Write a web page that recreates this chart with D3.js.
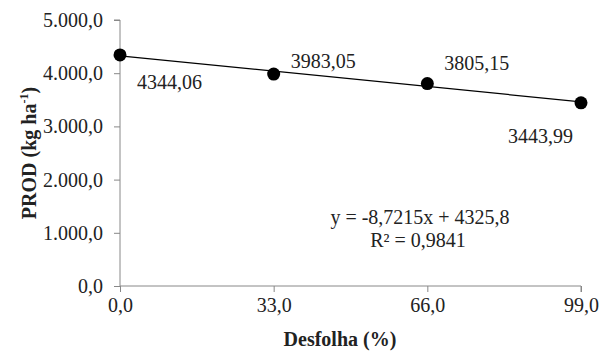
<!DOCTYPE html>
<html>
<head>
<meta charset="utf-8">
<script src="https://cdn.jsdelivr.net/npm/d3@7"></script>
<style>
  svg text, svg tspan { font-family: "Liberation Serif", "Times New Roman", Tinos, serif !important; }
</style>
</head>
<body style="margin:0;background:#fff">
<svg id="c" width="601" height="353" font-family="Liberation Serif"></svg>
<script>
const desfolha = [0, 33, 66, 99]
const prod = [4344.06, 3983.05, 3805.15, 3443.99]
const pointLabels = ['4344,06', '3983,05', '3805,15', '3443,99']
const xTicks = [0, 33, 66, 99]
const yTicks = [0, 1000, 2000, 3000, 4000, 5000]
const slope = -8.7215
const intercept = 4325.8

const FONT = 'Liberation Serif'
const FS = 20
const svg = d3.select('#c')
const margin = { left: 120, right: 20, top: 20, bottom: 67 }
const width = 601, height = 353

const x = d3.scaleLinear().domain([0, 99]).range([margin.left, width - margin.right])
const y = d3.scaleLinear().domain([0, 5000]).range([height - margin.bottom, margin.top])

const fmt = d => d3.format(',.1f')(d).replace(/,/g, '#').replace('.', ',').replace(/#/g, '.')

function txt(sel) {
  return sel.attr('font-family', FONT).attr('font-size', FS).attr('fill', '#222')
}

// y axis
const yAxis = svg.append('g')
  .attr('transform', `translate(${margin.left},0)`)
  .call(d3.axisLeft(y).tickValues(yTicks).tickFormat(fmt).tickSize(6).tickPadding(11))
yAxis.attr('font-family', FONT).attr('font-size', FS)
yAxis.select('.domain').attr('stroke', '#888').attr('d', `M-6,${y(5000)}H0V${y(0)}`)
yAxis.selectAll('.tick line').attr('stroke', '#888')
yAxis.selectAll('.tick text').call(txt)

// x axis
const xAxis = svg.append('g')
  .attr('transform', `translate(0,${y(0)})`)
  .call(d3.axisBottom(x).tickValues(xTicks).tickFormat(fmt).tickSize(6).tickPadding(6))
xAxis.attr('font-family', FONT).attr('font-size', FS)
xAxis.select('.domain').attr('stroke', '#888').attr('d', `M${x(0)},0H${x(99)}V6`)
xAxis.selectAll('.tick line').attr('stroke', '#888')
xAxis.selectAll('.tick text').call(txt)

// trend line
svg.append('line')
  .attr('x1', x(0)).attr('y1', y(intercept))
  .attr('x2', x(99)).attr('y2', y(intercept + slope * 99))
  .attr('stroke', '#000').attr('stroke-width', 1.2)

// points
svg.selectAll('circle.pt')
  .data(desfolha)
  .enter().append('circle')
  .attr('class', 'pt')
  .attr('cx', d => x(d))
  .attr('cy', (d, i) => y(prod[i]))
  .attr('r', 6.5)
  .attr('fill', '#000')

// point labels
const labelOffsets = [[17, 34], [17, -6], [17, -14], [-73, 40]]
svg.selectAll('text.lbl')
  .data(desfolha)
  .enter().append('text')
  .attr('class', 'lbl')
  .attr('x', (d, i) => x(d) + labelOffsets[i][0])
  .attr('y', (d, i) => y(prod[i]) + labelOffsets[i][1])
  .call(txt)
  .text((d, i) => pointLabels[i])

// equation
svg.append('text')
  .attr('x', 420).attr('y', 224)
  .attr('text-anchor', 'middle')
  .call(txt)
  .text('y = -8,7215x + 4325,8')
svg.append('text')
  .attr('x', 418).attr('y', 247)
  .attr('text-anchor', 'middle')
  .call(txt)
  .text('R² = 0,9841')

// axis titles
svg.append('text')
  .attr('x', 340).attr('y', 346)
  .attr('text-anchor', 'middle')
  .call(txt).attr('font-weight', 'bold')
  .text('Desfolha (%)')

const yTitle = svg.append('text')
  .attr('transform', `translate(36,${(y(0) + y(5000)) / 2}) rotate(-90)`)
  .attr('text-anchor', 'middle')
  .call(txt).attr('font-weight', 'bold')
yTitle.append('tspan').text('PROD (kg ha')
yTitle.append('tspan').attr('font-size', 12).attr('dy', -8).text('-1')
yTitle.append('tspan').attr('dy', 8).text(')')
</script>
</body>
</html>
